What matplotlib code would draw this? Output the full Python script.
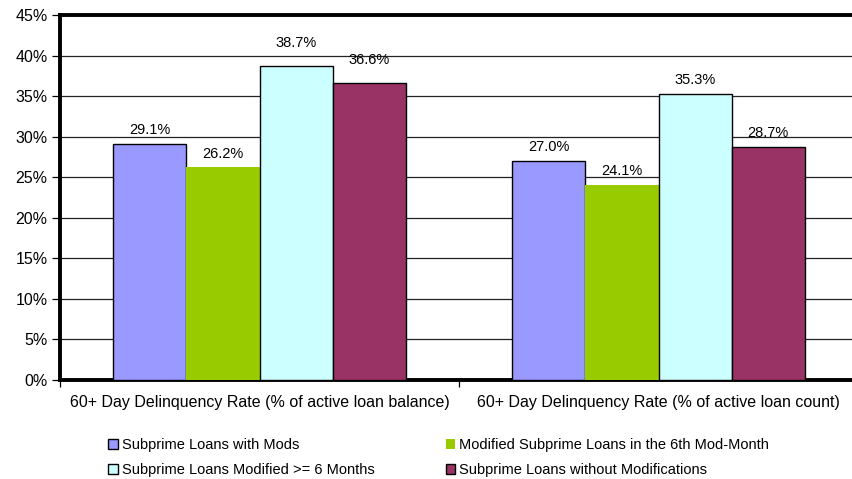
import matplotlib
matplotlib.use("Agg")
import matplotlib.pyplot as plt
import numpy as np
from matplotlib.ticker import FixedLocator, FuncFormatter

plt.rcParams['font.family'] = ['Liberation Sans', 'DejaVu Sans']

categories = ["60+ Day Delinquency Rate (% of active loan balance)",
              "60+ Day Delinquency Rate (% of active loan count)"]
series_names = ["Subprime Loans with Mods",
                "Modified Subprime Loans in the 6th Mod-Month",
                "Subprime Loans Modified >= 6 Months",
                "Subprime Loans without Modifications"]
values = [[29.1, 27.0],
          [26.2, 24.1],
          [38.7, 35.3],
          [36.6, 28.7]]
colors = ["#9999FF", "#99CC00", "#CCFFFF", "#993366"]
edges = ["black", "none", "black", "black"]
# label offsets above bar top (points)
label_offsets = [[7, 7], [7, 7], [13.5, 7], [13.5, 7]]

fig = plt.figure(figsize=(8.52, 4.79), dpi=100)
W, H = 852, 479
left, right, top, bottom = 60, 858, 15, 380
ax = fig.add_axes([left / W, 1 - bottom / H, (right - left) / W, (bottom - top) / H])

x = np.arange(len(categories))
bw = 0.183
for i, (name, vals) in enumerate(zip(series_names, values)):
    pos = x + (i - 1.5) * bw
    ax.bar(pos, vals, width=bw, color=colors[i], edgecolor=edges[i],
           linewidth=1.0, label=name, zorder=3)
    for j, (p, v) in enumerate(zip(pos, vals)):
        ax.annotate(f"{v:.1f}%", (p, v), xytext=(0, label_offsets[i][j]),
                    textcoords="offset points", ha="center", va="baseline",
                    fontsize=10.5, zorder=4)

ax.set_xlim(-0.5, 1.5)
ax.set_ylim(0, 45)
ax.yaxis.set_major_locator(FixedLocator(np.arange(0, 46, 5)))
ax.yaxis.set_major_formatter(FuncFormatter(lambda v, p: f"{int(v)}%"))
ax.grid(axis="y", color="#222222", linewidth=0.9, zorder=0)
ax.set_xticks([-0.5, 0.5, 1.5])
ax.set_xticklabels([])
ax.set_xticks(x, minor=True)
ax.set_xticklabels(categories, minor=True)
ax.tick_params(axis="x", which="minor", length=0, pad=11, labelsize=11.5)
ax.tick_params(axis="x", which="major", length=5, width=0.9, direction="out")
ax.tick_params(axis="y", length=6, width=0.9, labelsize=11.5, pad=3)
for s in ["top", "left", "bottom", "right"]:
    ax.spines[s].set_linewidth(2.8)

handles, labels = ax.get_legend_handles_labels()
order = [0, 2, 1, 3]
leg = fig.legend([handles[k] for k in order], [labels[k] for k in order],
                 loc="upper left", bbox_to_anchor=(98 / W, 1 - 428 / H),
                 ncol=2, frameon=False, fontsize=10.5, handlelength=0.65, handleheight=0.65,
                 handletextpad=0.3, columnspacing=4.85, labelspacing=0.75,
                 borderpad=0.2)

fig.savefig("out.png", dpi=100)
